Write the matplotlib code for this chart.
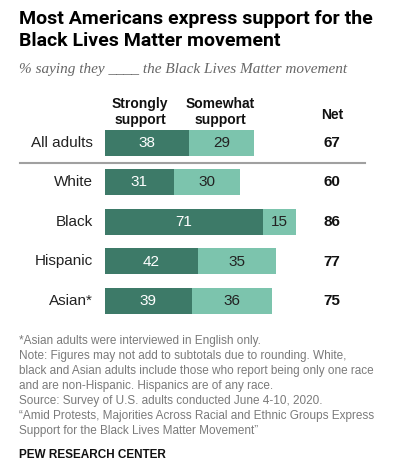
import matplotlib
matplotlib.use("Agg")
import matplotlib.pyplot as plt
from matplotlib.lines import Line2D

categories = ["All adults", "White", "Black", "Hispanic", "Asian*"]
strongly = [38, 31, 71, 42, 39]
somewhat = [29, 30, 15, 35, 36]
net = [67, 60, 86, 77, 75]

title = "Most Americans express support for the\nBlack Lives Matter movement"
subtitle = "% saying they ____ the Black Lives Matter movement"
notes = [
    "*Asian adults were interviewed in English only.",
    "Note: Figures may not add to subtotals due to rounding. White,",
    "black and Asian adults include those who report being only one race",
    "and are non-Hispanic. Hispanics are of any race.",
    "Source: Survey of U.S. adults conducted June 4-10, 2020.",
    "\u201cAmid Protests, Majorities Across Racial and Ethnic Groups Express",
    "Support for the Black Lives Matter Movement\u201d",
]
source = "PEW RESEARCH CENTER"

W, H = 400, 473
DARK = "#3d7a68"
LIGHT = "#7cc4ad"
FONT = "Liberation Sans"

fig = plt.figure(figsize=(W / 100, H / 100), dpi=100)
fig.patch.set_facecolor("white")

def ft(x, y, s, **kw):
    kw.setdefault("family", FONT)
    fig.text(x / W, 1 - y / H, s, **kw)

# axes: x=0 at px 105, 2.22 px/unit; rows at px 143 + 39.5*i
px_per_unit = 2.22
x0 = 105
xmax = (W - x0) / px_per_unit
row0, rstep = 143, 39.5
top_px = row0 - 0.6 * rstep
bot_px = row0 + 4.6 * rstep
ax = fig.add_axes([x0 / W, 1 - bot_px / H, (W - x0) / W, (bot_px - top_px) / H])
ax.set_xlim(0, xmax)
ax.set_ylim(4.6, -0.6)
ax.axis("off")

ys = list(range(len(categories)))
bh = 26 / rstep
ax.barh(ys, strongly, height=bh, color=DARK, linewidth=0)
ax.barh(ys, somewhat, left=strongly, height=bh, color=LIGHT, linewidth=0)

net_x = (332 - x0) / px_per_unit
for y, c, s, m, n in zip(ys, categories, strongly, somewhat, net):
    ax.text(s / 2, y, str(s), ha="center", va="center", color="white", fontsize=11, family=FONT)
    ax.text(s + m / 2, y, str(m), ha="center", va="center", color="#222222", fontsize=11, family=FONT)
    ax.text(net_x, y, str(n), ha="center", va="center", color="#111111", fontsize=11,
            fontweight="bold", family=FONT)
    ax.text(-12 / px_per_unit, y, c, ha="right", va="center", color="#222222", fontsize=11, family=FONT)

# separator
fig.add_artist(Line2D([20 / W, 365 / W], [1 - 163 / H, 1 - 163 / H], color="#a0a0a0", lw=1.5))

# headers
ft(140, 112, "Strongly\nsupport", ha="center", va="center", fontsize=10, fontweight="bold",
   color="#111111", linespacing=1.2)
ft(220, 112, "Somewhat\nsupport", ha="center", va="center", fontsize=10, fontweight="bold",
   color="#111111", linespacing=1.2)
ft(332, 115, "Net", ha="center", va="center", fontsize=10, fontweight="bold", color="#111111")

# title/subtitle
ft(19, 30, title, ha="left", va="center", fontsize=14, fontweight="bold", color="#000000",
   linespacing=1.3, family="Roboto")
ft(19, 70, subtitle, ha="left", va="center", fontsize=11, style="italic", color="#666666",
   family="Liberation Serif")

# notes
for i, line in enumerate(notes):
    ft(19, 341 + 15 * i, line, ha="left", va="center", fontsize=8.5, color="#7a7a7a")
ft(19, 455, source, ha="left", va="center", fontsize=8.5, fontweight="bold", color="#111111")

fig.savefig("out.png", dpi=100, facecolor="white")
